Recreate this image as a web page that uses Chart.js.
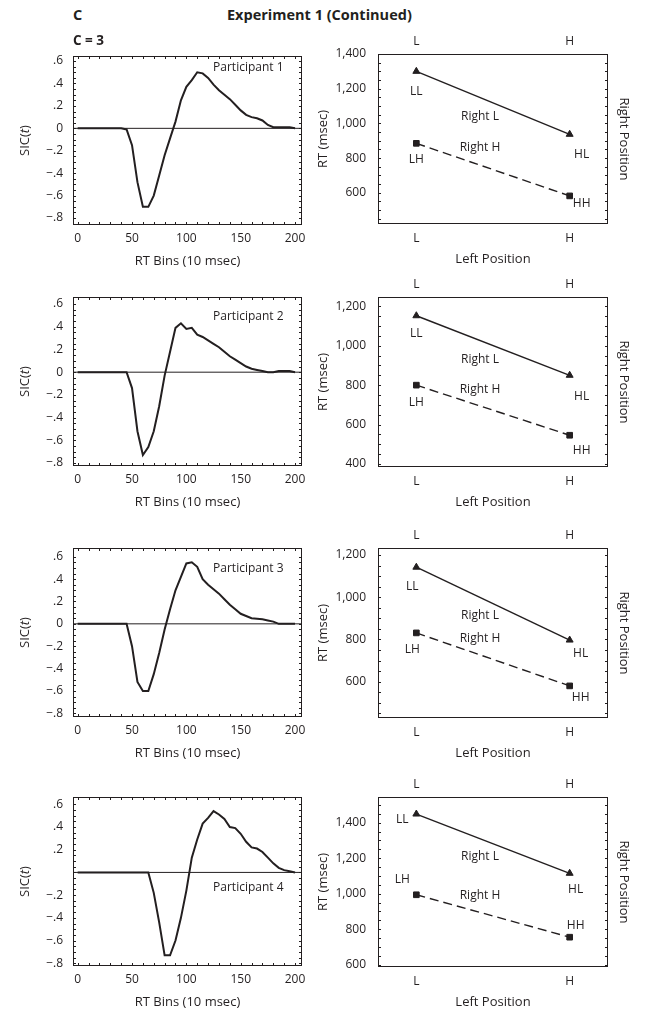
<!DOCTYPE html>
<html>
<head>
<meta charset="utf-8">
<script src="https://cdn.jsdelivr.net/npm/chart.js@4.4.1/dist/chart.umd.min.js"></script>
<style>
  body { margin: 0; background: #fff; }
  #page { position: relative; width: 645px; height: 1019px; font-family: 'Open Sans', 'Noto Sans', sans-serif; color: #231f20; }
  #page canvas { position: absolute; }
  .hdr { position: absolute; font-weight: bold; font-size: 14.5px; line-height: 15px; white-space: nowrap; z-index: 2; }
</style>
</head>
<body>
<div id="page">
  <div class="hdr" style="left:73px; top:7px;">C</div>
  <div class="hdr" style="left:227px; top:7px;">Experiment 1 (Continued)</div>
  <div class="hdr" style="left:73px; top:33px; font-size:13.5px;">C = 3</div>
</div>
<script>
const INK = '#231f20';
const FONT = "'Open Sans', 'Noto Sans', sans-serif";

// ---- data: SIC curves (RT bins of 10 msec) ----
const rtBins = [0, 5, 10, 15, 20, 25, 30, 35, 40, 45, 50, 55, 60, 65, 70, 75, 80, 85, 90, 95, 100,
                105, 110, 115, 120, 125, 130, 135, 140, 145, 150, 155, 160, 165, 170, 175, 180, 185, 190, 195, 200];
const sicP1 = [0, 0, 0, 0, 0, 0, 0, 0, 0, -0.01, -0.15, -0.48, -0.70, -0.70, -0.60, -0.42, -0.24, -0.09, 0.06, 0.25, 0.37,
               0.43, 0.50, 0.49, 0.45, 0.39, 0.34, 0.30, 0.26, 0.21, 0.16, 0.12, 0.10, 0.09, 0.07, 0.03, 0.01, 0.01, 0.01, 0.01, 0];
const sicP2 = [0, 0, 0, 0, 0, 0, 0, 0, 0, 0, -0.14, -0.52, -0.73, -0.66, -0.52, -0.30, -0.03, 0.18, 0.39, 0.43, 0.38,
               0.39, 0.33, 0.31, 0.28, 0.25, 0.22, 0.18, 0.14, 0.11, 0.08, 0.05, 0.03, 0.02, 0.01, 0, 0, 0.01, 0.01, 0.01, 0];
const sicP3 = [0, 0, 0, 0, 0, 0, 0, 0, 0, 0, -0.20, -0.52, -0.60, -0.60, -0.45, -0.26, -0.05, 0.13, 0.30, 0.42, 0.54,
               0.55, 0.51, 0.40, 0.35, 0.31, 0.27, 0.22, 0.17, 0.13, 0.09, 0.07, 0.05, 0.045, 0.04, 0.03, 0.02, 0, 0, 0, 0];
const sicP4 = [0, 0, 0, 0, 0, 0, 0, 0, 0, 0, 0, 0, 0, 0, -0.18, -0.44, -0.73, -0.73, -0.60, -0.40, -0.16,
               0.13, 0.29, 0.43, 0.48, 0.54, 0.51, 0.47, 0.40, 0.39, 0.34, 0.27, 0.22, 0.21, 0.18, 0.13, 0.08, 0.04, 0.02, 0.01, 0];

// ---- data: mean RT (msec) by left/right position ----
const positions = ['L', 'H'];
const rightL_P1 = [1300, 937];   // LL, HL
const rightH_P1 = [885, 582];    // LH, HH
const rightL_P2 = [1152, 850];
const rightH_P2 = [800, 546];
const rightL_P3 = [1142, 797];
const rightH_P3 = [831, 580];
const rightL_P4 = [1449, 1115];
const rightH_P4 = [994, 755];

// ---- tick labels ----
const binTicks = [0, 50, 100, 150, 200];
const sicTicks = [0.6, 0.4, 0.2, 0, -0.2, -0.4, -0.6, -0.8];
const sicTicksNoZero = [0.6, 0.4, 0.2, -0.2, -0.4, -0.6, -0.8];
const rtTicks1 = [600, 800, 1000, 1200, 1400];
const rtTicks2 = [400, 600, 800, 1000, 1200];
const rtTicks3 = [600, 800, 1000, 1200];
const rtTicks4 = [600, 800, 1000, 1200, 1400];

// ---- layout ----
const SIC_X = [-4.3, 206.4];
const SIC_H = 169;
const SIC_PAD = 20;
const RT_X = [-0.25, 1.25];
const RT_H = 170;

const sicPanels = [
  { values: sicP1, name: 'Participant 1', ticks: sicTicks, top: 56, range: [-0.862, 0.645], note: [157, 0.54] },
  { values: sicP2, name: 'Participant 2', ticks: sicTicks, top: 297, range: [-0.826, 0.662], note: [157, 0.49] },
  { values: sicP3, name: 'Participant 3', ticks: sicTicks, top: 548, range: [-0.833, 0.678], note: [157, 0.49] },
  { values: sicP4, name: 'Participant 4', ticks: sicTicksNoZero, top: 797, range: [-0.824, 0.664], note: [157, -0.137] }
];

const rtPanels = [
  { lineL: rightL_P1, lineH: rightH_P1, ticks: rtTicks1, top: 54, range: [420, 1400],
    textL: 1039, textH: 860, offs: { LL: [0, 20], HL: [12, 20], LH: [0, 16], HH: [12, 8] } },
  { lineL: rightL_P2, lineH: rightH_P2, ticks: rtTicks2, top: 297, range: [385, 1247],
    textL: 932, textH: 780, offs: { LL: [0, 18], HL: [12, 21], LH: [0, 17], HH: [12, 15] } },
  { lineL: rightL_P3, lineH: rightH_P3, ticks: rtTicks3, top: 548, range: [428, 1233],
    textL: 911, textH: 806, offs: { LL: [-4, 19], HL: [11, 14], LH: [-4, 17], HH: [11, 12] } },
  { lineL: rightL_P4, lineH: rightH_P4, ticks: rtTicks4, top: 797, range: [587, 1545],
    textL: 1207, textH: 989, offs: { LL: [-14, 6], HL: [6, 16], LH: [-14, -15], HH: [6, -12] } }
];

Chart.defaults.font.family = FONT;
Chart.defaults.font.size = 12;
Chart.defaults.color = INK;

const tickFont = { family: FONT, size: 12 };
const titleFont = { family: FONT, size: 13 };
const noGrid = { display: false, drawTicks: false };

// Frame, inward minor ticks and in-plot text
const decor = {
  id: 'decor',
  afterDraw(chart, args, opts) {
    const { ctx, chartArea: a } = chart;
    const xs = chart.scales.x, ys = chart.scales.y;
    ctx.save();
    ctx.strokeStyle = INK;
    ctx.lineWidth = 1;
    ctx.strokeRect(a.left + 0.5, a.top + 0.5, a.width - 1, a.height - 1);

    ctx.beginPath();
    (opts.xMinor || []).forEach(v => {
      const px = Math.round(xs.getPixelForValue(v)) + 0.5;
      ctx.moveTo(px, a.top); ctx.lineTo(px, a.top + 3);
      ctx.moveTo(px, a.bottom); ctx.lineTo(px, a.bottom - 3);
    });
    (opts.yMinor || []).forEach(v => {
      const py = Math.round(ys.getPixelForValue(v)) + 0.5;
      ctx.moveTo(a.left, py); ctx.lineTo(a.left + 3, py);
      ctx.moveTo(a.right, py); ctx.lineTo(a.right - 3, py);
    });
    ctx.stroke();

    ctx.fillStyle = INK;
    ctx.font = '12px ' + FONT;
    ctx.textAlign = 'center';
    ctx.textBaseline = 'middle';
    (opts.notes || []).forEach(n => {
      const px = xs.getPixelForValue(n.x) + (n.dx || 0);
      const py = ys.getPixelForValue(n.y) + (n.dy || 0);
      ctx.fillText(n.text, px, py);
    });

    // SIC(t) axis title with italic t
    if (opts.sicTitle) {
      const parts = [['SIC(', 'normal'], ['t', 'italic'], [')', 'normal']];
      let total = 0;
      parts.forEach(p => { ctx.font = p[1] + ' 13px ' + FONT; p.push(ctx.measureText(p[0]).width); total += p[2]; });
      ctx.translate(opts.sicTitle, (a.top + a.bottom) / 2);
      ctx.rotate(-Math.PI / 2);
      ctx.textAlign = 'left';
      let x = -total / 2;
      parts.forEach(p => { ctx.font = p[1] + ' 13px ' + FONT; ctx.fillText(p[0], x, 0); x += p[2]; });
    }
    ctx.restore();
  }
};

function makeCanvas(left, top, w, h) {
  const cv = document.createElement('canvas');
  cv.width = w; cv.height = h;
  cv.style.left = left + 'px';
  cv.style.top = top + 'px';
  cv.style.width = w + 'px';
  cv.style.height = h + 'px';
  document.getElementById('page').appendChild(cv);
  return cv;
}

function fmtSic(v) {
  if (Math.abs(v) < 1e-9) return '0';
  return (v < 0 ? '\u2212' : '') + Math.abs(v).toFixed(1).replace(/^0/, '');
}

function steps(from, to, step) {
  const out = [];
  for (let v = from; v <= to + 1e-9; v += step) out.push(+v.toFixed(4));
  return out;
}

function sicChart(p) {
  const cv = makeCanvas(0, p.top - SIC_PAD, 312, SIC_PAD + SIC_H + 50);
  return new Chart(cv, {
    type: 'line',
    data: {
      datasets: [
        { data: rtBins.map((b, i) => ({ x: b, y: p.values[i] })), borderColor: INK, borderWidth: 2,
          pointRadius: 0, tension: 0 },
        { data: [{ x: SIC_X[0], y: 0 }, { x: SIC_X[1], y: 0 }], borderColor: INK, borderWidth: 1, pointRadius: 0 }
      ]
    },
    options: {
      responsive: false,
      animation: false,
      devicePixelRatio: 1,
      layout: { padding: { top: SIC_PAD, right: 10, left: 0, bottom: 0 } },
      plugins: {
        legend: { display: false },
        tooltip: { enabled: false },
        decor: {
          xMinor: steps(0, 200, 10),
          yMinor: steps(-0.8, 0.6, 0.05),
          notes: [{ text: p.name, x: p.note[0], y: p.note[1] }],
          sicTitle: 25
        }
      },
      scales: {
        x: {
          type: 'linear', min: SIC_X[0], max: SIC_X[1],
          grid: noGrid, border: { display: false },
          afterBuildTicks: s => { s.ticks = binTicks.map(v => ({ value: v })); },
          afterFit: s => { s.height = 50; },
          ticks: { padding: 6, font: tickFont, color: INK, maxRotation: 0, autoSkip: false },
          title: { display: true, text: 'RT Bins (10 msec)', color: INK, font: titleFont, padding: { top: 0, bottom: 6 } }
        },
        y: {
          type: 'linear', min: p.range[0], max: p.range[1],
          grid: noGrid, border: { display: false },
          afterBuildTicks: s => { s.ticks = p.ticks.map(v => ({ value: v })); },
          afterFit: s => { s.width = 73; },
          ticks: { padding: 10, font: tickFont, color: INK, callback: v => fmtSic(v) }
        }
      }
    },
    plugins: [decor]
  });
}

function rtChart(p) {
  const cv = makeCanvas(312, p.top - 30, 333, 30 + RT_H + 50);
  const o = p.offs;
  const labX = 0.415;
  return new Chart(cv, {
    type: 'line',
    data: {
      datasets: [
        { label: 'Right L', data: positions.map((c, i) => ({ x: i, y: p.lineL[i] })),
          borderColor: INK, borderWidth: 1.4, tension: 0,
          pointStyle: 'triangle', pointRadius: 4, pointBackgroundColor: INK, pointBorderColor: INK, pointBorderWidth: 1 },
        { label: 'Right H', data: positions.map((c, i) => ({ x: i, y: p.lineH[i] })),
          borderColor: INK, borderWidth: 1.4, borderDash: [9, 5], tension: 0,
          pointStyle: 'rect', pointRadius: 4, pointBackgroundColor: INK, pointBorderColor: INK, pointBorderWidth: 1 }
      ]
    },
    options: {
      responsive: false,
      animation: false,
      devicePixelRatio: 1,
      layout: { padding: 0 },
      plugins: {
        legend: { display: false },
        tooltip: { enabled: false },
        decor: {
          yMinor: steps(Math.ceil(p.range[0] / 50) * 50, p.range[1], 50),
          notes: [
            { text: 'LL', x: 0, y: p.lineL[0], dx: o.LL[0], dy: o.LL[1] },
            { text: 'HL', x: 1, y: p.lineL[1], dx: o.HL[0], dy: o.HL[1] },
            { text: 'LH', x: 0, y: p.lineH[0], dx: o.LH[0], dy: o.LH[1] },
            { text: 'HH', x: 1, y: p.lineH[1], dx: o.HH[0], dy: o.HH[1] },
            { text: 'Right L', x: labX, y: p.textL },
            { text: 'Right H', x: labX, y: p.textH }
          ]
        }
      },
      scales: {
        x: {
          type: 'linear', position: 'bottom', min: RT_X[0], max: RT_X[1],
          grid: noGrid, border: { display: false },
          afterBuildTicks: s => { s.ticks = positions.map((c, i) => ({ value: i })); },
          afterFit: s => { s.height = 50; },
          ticks: { padding: 7, font: tickFont, color: INK, maxRotation: 0, autoSkip: false, callback: v => positions[v] },
          title: { display: true, text: 'Left Position', color: INK, font: titleFont, padding: { top: 0, bottom: 7 } }
        },
        x2: {
          type: 'linear', position: 'top', min: RT_X[0], max: RT_X[1],
          grid: noGrid, border: { display: false },
          afterBuildTicks: s => { s.ticks = positions.map((c, i) => ({ value: i })); },
          afterFit: s => { s.height = 30; },
          ticks: { padding: 5, font: tickFont, color: INK, maxRotation: 0, autoSkip: false, callback: v => positions[v] }
        },
        y: {
          type: 'linear', min: p.range[0], max: p.range[1],
          grid: noGrid, border: { display: false },
          afterBuildTicks: s => { s.ticks = p.ticks.map(v => ({ value: v })); },
          afterFit: s => { s.width = 66; },
          ticks: { padding: 12, font: tickFont, color: INK, callback: v => v.toLocaleString('en-US') },
          title: { display: true, text: 'RT (msec)', color: INK, font: titleFont, padding: { top: 3, bottom: 0 } }
        },
        y2: {
          type: 'linear', position: 'right', min: 0, max: 1,
          grid: noGrid, border: { display: false },
          ticks: { display: false },
          afterFit: s => { s.width = 37; },
          title: { display: true, text: 'Right Position', color: INK, font: titleFont, padding: { top: 13, bottom: 0 } }
        }
      }
    },
    plugins: [decor]
  });
}

sicPanels.forEach(sicChart);
rtPanels.forEach(rtChart);
</script>
</body>
</html>
